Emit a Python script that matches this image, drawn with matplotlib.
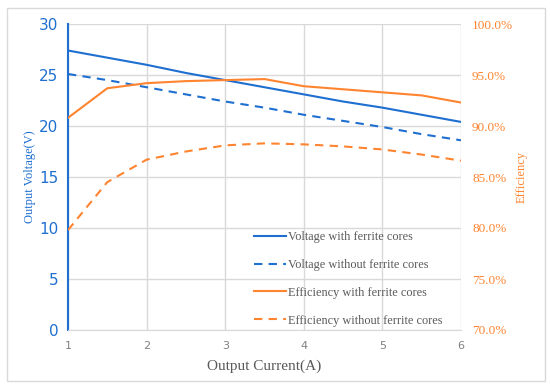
import matplotlib.pyplot as plt
from matplotlib.ticker import PercentFormatter
from matplotlib.patches import Rectangle

current = [1, 1.5, 2, 2.5, 3, 3.5, 4, 4.5, 5, 5.5, 6]
v_with = [27.4, 26.7, 26.0, 25.2, 24.5, 23.8, 23.1, 22.4, 21.8, 21.1, 20.4]
v_without = [25.1, 24.5, 23.8, 23.1, 22.4, 21.8, 21.1, 20.5, 19.9, 19.2, 18.6]
eff_with = [90.8, 93.7, 94.2, 94.4, 94.5, 94.6, 93.9, 93.6, 93.3, 93.0, 92.3]
eff_without = [79.8, 84.5, 86.7, 87.5, 88.1, 88.3, 88.2, 88.0, 87.7, 87.2, 86.6]

blue = '#1f6fd0'
orange = '#ff8430'
serif = 'Liberation Serif'

fig = plt.figure(figsize=(5.5, 3.9), dpi=100)
fig.patches.append(Rectangle((0.013, 0.022), 0.977, 0.958, transform=fig.transFigure,
                             fill=False, edgecolor='#d9d9d9', lw=1))
ax = fig.add_axes([68/550, 1-330/390, (461-68)/550, (330-24)/390])
ax2 = ax.twinx()

l1, = ax.plot(current, v_with, color=blue, lw=1.5, label='Voltage with ferrite cores')
l2, = ax.plot(current, v_without, color=blue, lw=1.5, ls=(0, (4, 3)), label='Voltage without ferrite cores')
l3, = ax2.plot(current, eff_with, color=orange, lw=1.5, label='Efficiency with ferrite cores')
l4, = ax2.plot(current, eff_without, color=orange, lw=1.5, ls=(0, (4, 3)), label='Efficiency without ferrite cores')

ax.set_xlim(1, 6)
ax.set_ylim(0, 30)
ax.set_yticks(range(0, 31, 5))
ax2.set_ylim(70, 100)
ax2.set_yticks(range(70, 101, 5))
ax2.yaxis.set_major_formatter(PercentFormatter(decimals=1))

ax.grid(True, color='#d9d9d9', lw=1)
ax.set_axisbelow(True)
for a in (ax, ax2):
    for s in ('top', 'right'):
        a.spines[s].set_visible(False)
    a.spines['left'].set_visible(False)
ax.spines['left'].set_visible(True)
ax.spines['left'].set_color(blue)
ax.spines['left'].set_linewidth(1.5)
ax.spines['bottom'].set_color('#d9d9d9')
ax2.spines['bottom'].set_visible(False)

ax.tick_params(axis='y', length=0, colors=blue, labelsize=11, pad=7)
ax.tick_params(axis='x', length=0, colors='#808080', labelsize=8, pad=8)
ax2.tick_params(axis='y', length=0, colors=orange, labelsize=9.5, pad=8)
for t in ax2.get_yticklabels():
    t.set_fontfamily(serif)

ax.set_xlabel('Output Current(A)', family=serif, fontsize=11, color='#595959', labelpad=6)
ax.set_ylabel('Output Voltage(V)', family=serif, fontsize=9, color=blue, labelpad=2)
ax2.set_ylabel('Efficiency', family=serif, fontsize=9, color=orange, labelpad=2)

leg = ax.legend(handles=[l1, l2, l3, l4], loc='lower right', bbox_to_anchor=(0.98, -0.025),
                frameon=False, prop={'family': serif, 'size': 8.8}, handlelength=2.6,
                handletextpad=0.15, labelspacing=1.3)
for t in leg.get_texts():
    t.set_color('#595959')

fig.savefig('out.png', dpi=100)
